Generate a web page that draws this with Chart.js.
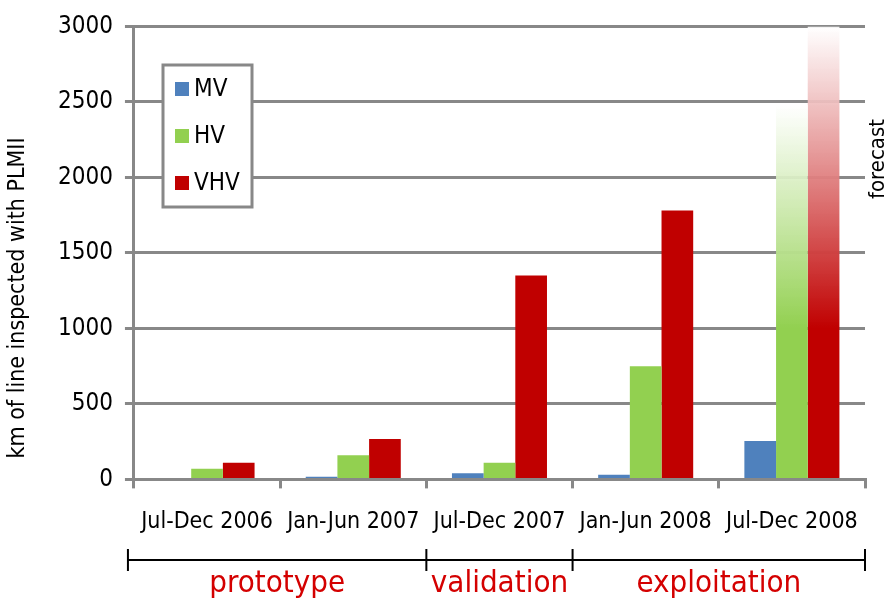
<!DOCTYPE html>
<html>
<head>
<meta charset="utf-8">
<script src="https://cdn.jsdelivr.net/npm/chart.js@4/dist/chart.umd.min.js"></script>
<style>
  html, body { margin: 0; padding: 0; background: #fff; }
  #wrap { width: 891px; height: 603px; }
</style>
</head>
<body>
<div id="wrap"><canvas id="chart"></canvas></div>
<script>
const periods = ['Jul-Dec 2006', 'Jan-Jun 2007', 'Jul-Dec 2007', 'Jan-Jun 2008', 'Jul-Dec 2008'];
const mvKm = [0, 18, 40, 30, 255];
const hvKm = [70, 160, 110, 750, 2480];
const vhvKm = [110, 267, 1350, 1780, 3000];
const yTicks = [0, 500, 1000, 1500, 2000, 2500, 3000];
const yTitle = 'km of line inspected with PLMII';
const phases = ['prototype', 'validation', 'exploitation'];
const phaseSpans = [2, 1, 2];
const forecastIndex = 4;
const forecastFrom = 1000;

const FONT = '"DejaVu Sans Condensed", "Liberation Sans", Arial, sans-serif';

function forecastFill(color) {
    return function (ctx) {
        const chart = ctx.chart;
        if (ctx.dataIndex !== forecastIndex || !chart.chartArea) return color;
        const y = chart.scales.y;
        const v = ctx.raw;
        const g = chart.ctx.createLinearGradient(0, y.getPixelForValue(forecastFrom), 0, y.getPixelForValue(v));
        g.addColorStop(0, color);
        g.addColorStop(1, 'rgba(255,255,255,0.9)');
        return g;
    };
}

const legendBox = {
    id: 'legendBox',
    afterDraw(chart) {
        const c = chart.ctx;
        c.save();
        c.strokeStyle = '#888';
        c.lineWidth = 3;
        c.fillStyle = '#fff';
        c.fillRect(163, 65, 89, 142);
        c.strokeRect(163, 65, 89, 142);
        c.font = '24px ' + FONT;
        c.textBaseline = 'middle';
        chart.data.datasets.forEach((ds, i) => {
            const yy = 89 + i * 47;
            c.fillStyle = ds.legendColor;
            c.fillRect(175, yy - 7, 14, 14);
            c.fillStyle = '#000';
            c.fillText(ds.label, 194, yy + 1);
        });
        c.restore();
    }
};

const annotations = {
    id: 'annotations',
    afterDraw(chart) {
        const c = chart.ctx;
        const x = chart.scales.x;
        const step = x.getPixelForValue(1) - x.getPixelForValue(0);
        const edge = i => x.getPixelForValue(i) - step / 2;

        // y axis title, sits lower than the plot centre
        c.save();
        c.fillStyle = '#000';
        c.font = '23px ' + FONT;
        c.translate(18, 298);
        c.rotate(-Math.PI / 2);
        c.textAlign = 'center';
        c.textBaseline = 'middle';
        c.fillText(yTitle, 0, 0);
        c.restore();

        // forecast label
        c.save();
        c.fillStyle = '#000';
        c.font = '22px ' + FONT;
        c.translate(889, 159);
        c.rotate(-Math.PI / 2);
        c.textAlign = 'center';
        c.textBaseline = 'bottom';
        c.fillText('forecast', 0, 0);
        c.restore();

        c.save();
        const lineY = 560;
        const bounds = [edge(0) - 6];
        let k = 0;
        phaseSpans.forEach(s => { k += s; bounds.push(edge(k)); });
        c.strokeStyle = '#000';
        c.lineWidth = 2;
        c.beginPath();
        c.moveTo(bounds[0], lineY);
        c.lineTo(bounds[bounds.length - 1], lineY);
        bounds.forEach(b => { c.moveTo(b, lineY - 11); c.lineTo(b, lineY + 11); });
        c.stroke();
        c.fillStyle = '#d40000';
        c.font = '31px ' + FONT;
        c.textAlign = 'center';
        c.textBaseline = 'middle';
        phases.forEach((p, i) => {
            c.fillText(p, (bounds[i] + bounds[i + 1]) / 2, lineY + 24);
        });
        c.restore();
    }
};

new Chart(document.getElementById('chart'), {
    type: 'bar',
    data: {
        labels: periods,
        datasets: [
            { label: 'MV', data: mvKm, backgroundColor: '#4f81bd', legendColor: '#4f81bd' },
            { label: 'HV', data: hvKm, backgroundColor: forecastFill('#92d050'), legendColor: '#92d050' },
            { label: 'VHV', data: vhvKm, backgroundColor: forecastFill('#c00000'), legendColor: '#c00000' }
        ]
    },
    options: {
        responsive: true,
        maintainAspectRatio: false,
        animation: false,
        layout: { padding: { left: 46, right: 26, top: 26, bottom: 47 } },
        datasets: { bar: { categoryPercentage: 0.65, barPercentage: 1.0, borderWidth: 0 } },
        plugins: {
            legend: { display: false },
            tooltip: { enabled: false }
        },
        scales: {
            x: {
                grid: { drawOnChartArea: false, color: '#888', lineWidth: 3, tickLength: 9, offset: true },
                border: { color: '#888', width: 3 },
                ticks: { color: '#000', font: { family: FONT, size: 23 }, padding: 20, maxRotation: 0, autoSkip: false }
            },
            y: {
                min: 0,
                max: 3000,
                afterBuildTicks(axis) { axis.ticks = yTicks.map(v => ({ value: v })); },
                grid: { color: '#888', lineWidth: 3, tickLength: 9 },
                border: { color: '#888', width: 3 },
                ticks: { color: '#000', font: { family: FONT, size: 24 }, padding: 12, callback: v => String(v) }
            }
        }
    },
    plugins: [legendBox, annotations]
});
</script>
</body>
</html>
